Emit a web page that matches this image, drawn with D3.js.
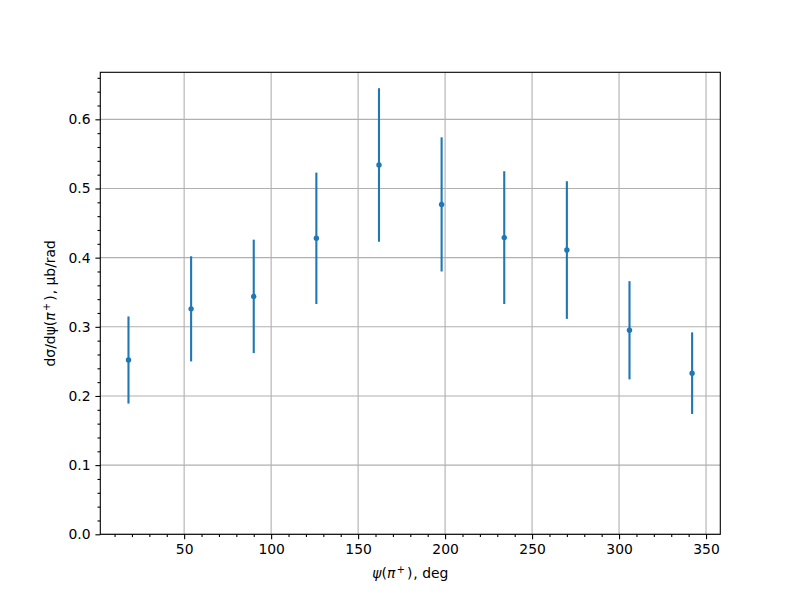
<!DOCTYPE html>
<html>
<head>
<meta charset="utf-8">
<script src="https://cdn.jsdelivr.net/npm/d3@7"></script>
<style>
  body { margin: 0; background: #fff; }
  svg text { font-family: "DejaVu Sans", sans-serif; }
</style>
</head>
<body>
<svg id="chart" width="800" height="600"></svg>
<script>
// angle bins (deg), cross section and its error
const psi = [18, 54, 90, 126, 162, 198, 234, 270, 306, 342];
const sigma = [0.252, 0.326, 0.344, 0.428, 0.534, 0.477, 0.429, 0.411, 0.295, 0.233];
const sigmaErr = [0.063, 0.076, 0.082, 0.095, 0.111, 0.097, 0.096, 0.0995, 0.071, 0.059];
const xTicks = [50, 100, 150, 200, 250, 300, 350];
const yTicks = [0.0, 0.1, 0.2, 0.3, 0.4, 0.5, 0.6];

const svg = d3.select('#chart');
const mLeft = 100.3, mRight = 720.3, mTop = 72.3, mBottom = 534.3;

const x = d3.scaleLinear([1.8, 358.2], [mLeft, mRight]);
const y = d3.scaleLinear([0, 0.668], [mBottom, mTop]);

const xMinor = d3.range(10, 360, 10).filter(v => v % 50 !== 0);
const yMinor = d3.range(0, 0.67, 0.02).filter(v => Math.abs(v * 10 - Math.round(v * 10)) > 1e-6);

// grid
const grid = svg.append('g');
grid.selectAll('.gx').data(xTicks).join('line').attr('class', 'gx')
  .attr('x1', d => x(d)).attr('x2', d => x(d))
  .attr('y1', mTop).attr('y2', mBottom)
  .attr('stroke', '#b0b0b0').attr('stroke-width', 1.1);
grid.selectAll('.gy').data(yTicks).join('line').attr('class', 'gy')
  .attr('x1', mLeft).attr('x2', mRight)
  .attr('y1', d => y(d)).attr('y2', d => y(d))
  .attr('stroke', '#b0b0b0').attr('stroke-width', 1.1);

// error bars and points
const marks = svg.append('g');
marks.selectAll('line').data(psi).join('line')
  .attr('x1', d => x(d)).attr('x2', d => x(d))
  .attr('y1', (d, i) => y(sigma[i] - sigmaErr[i]))
  .attr('y2', (d, i) => y(sigma[i] + sigmaErr[i]))
  .attr('stroke', '#1f77b4').attr('stroke-width', 2.1);
marks.selectAll('circle').data(psi).join('circle')
  .attr('cx', d => x(d)).attr('cy', (d, i) => y(sigma[i]))
  .attr('r', 2.7).attr('fill', '#1f77b4');

// axes
function style(g) {
  g.select('.domain').remove();
  g.selectAll('line').attr('stroke', '#000').attr('stroke-width', 1.1);
  g.selectAll('text').attr('font-size', '13.9px').attr('fill', '#000')
    .attr('font-family', '"DejaVu Sans", sans-serif');
}
svg.append('g').attr('transform', `translate(0,${mBottom})`)
  .call(d3.axisBottom(x).tickValues(xTicks).tickFormat(d3.format('d')).tickSize(4.9).tickPadding(4.9))
  .call(style);
svg.append('g').attr('transform', `translate(0,${mBottom})`)
  .call(d3.axisBottom(x).tickValues(xMinor).tickFormat('').tickSize(2.8))
  .call(style);
svg.append('g').attr('transform', `translate(${mLeft},0)`)
  .call(d3.axisLeft(y).tickValues(yTicks).tickFormat(d3.format('.1f')).tickSize(4.9).tickPadding(4.9))
  .call(style);
svg.append('g').attr('transform', `translate(${mLeft},0)`)
  .call(d3.axisLeft(y).tickValues(yMinor).tickFormat('').tickSize(2.8))
  .call(style);

// frame
svg.append('rect').attr('x', mLeft).attr('y', mTop)
  .attr('width', mRight - mLeft).attr('height', mBottom - mTop)
  .attr('fill', 'none').attr('stroke', '#000').attr('stroke-width', 1.1);

// labels (mathtext-like spacing around the superscript)
const xl = svg.append('text').attr('x', (mLeft + mRight) / 2).attr('y', 578)
  .attr('text-anchor', 'middle').attr('font-size', '13.9px');
xl.append('tspan').attr('font-style', 'italic').text('ψ');
xl.append('tspan').text('(');
xl.append('tspan').attr('font-style', 'italic').text('π');
xl.append('tspan').attr('font-size', '9.7px').attr('dy', -5).attr('dx', 1.5).text('+');
xl.append('tspan').attr('dy', 5).attr('dx', 2).text(')');
xl.append('tspan').attr('dx', 1).text(', deg');

const yl = svg.append('text')
  .attr('transform', `translate(55,${(mTop + mBottom) / 2}) rotate(-90)`)
  .attr('text-anchor', 'middle').attr('font-size', '13.9px');
yl.append('tspan').text('dσ/dψ(');
yl.append('tspan').attr('font-style', 'italic').text('π');
yl.append('tspan').attr('font-size', '9.7px').attr('dy', -5).attr('dx', 1.5).text('+');
yl.append('tspan').attr('dy', 5).attr('dx', 2).text(')');
yl.append('tspan').attr('dx', 1).text(', μb/rad');
</script>
</body>
</html>
